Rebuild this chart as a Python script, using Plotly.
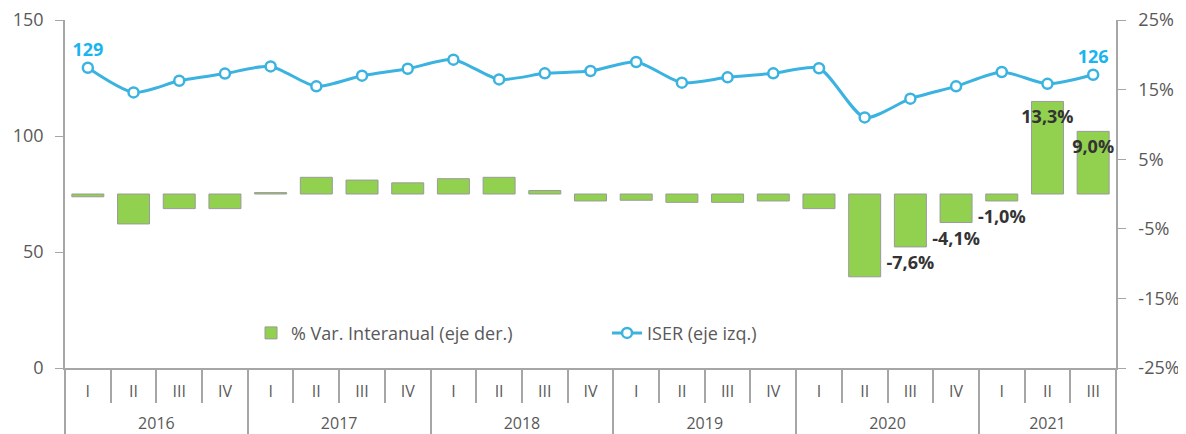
import plotly.graph_objects as go

years = ["2016"] * 4 + ["2017"] * 4 + ["2018"] * 4 + ["2019"] * 4 + ["2020"] * 4 + ["2021"] * 3
quarters = ["I", "II", "III", "IV"] * 5 + ["I", "II", "III"]

iser = [129.4, 118.8, 123.8, 126.9, 130.0, 121.4, 126.0, 129.0,
        132.9, 124.4, 127.0, 128.0, 131.9, 123.0, 125.3, 127.0,
        129.2, 108.0, 116.1, 121.4, 127.6, 122.5, 126.4]

var_ia = [-0.4, -4.3, -2.1, -2.1, 0.2, 2.4, 2.0, 1.6,
          2.2, 2.4, 0.5, -1.0, -0.9, -1.2, -1.2, -1.0,
          -2.1, -11.9, -7.6, -4.1, -1.0, 13.3, 9.0]

iser_labels = ["129"] + [""] * 21 + ["126"]
labeled_from = 18  # bars with printed values (2020 III onward)
bar_labels = [f"{v:.1f}%".replace(".", ",") for v in var_ia[labeled_from:]]

right_tickvals = [-25, -15, -5, 5, 15, 25]
right_ticktext = ["-25%", "-15%", "-5%", "5%", "15%", "25%"]

# tiny invisible second line under each quarter label: pushes the year row down
SPACER = "<br><span style='font-size:1px'>\u00a0</span>"
quarter_cats = [q + SPACER for q in quarters]
xcats = [years, quarter_cats]

FONT = "Open Sans"
GRAY = "#a6a6a6"
TXT = "#595959"
BLUE = "#3bb3e0"
GREEN = "#92d050"
XRANGE = [-0.5, 22.5]

fig = go.Figure()

fig.add_trace(go.Bar(
    x=xcats, y=var_ia, xaxis="x2", yaxis="y2",
    name="% Var. Interanual (eje der.)",
    marker=dict(color=GREEN, line=dict(color="#9a9a9a", width=1)),
))

fig.add_trace(go.Scatter(
    x=[years[labeled_from:], quarter_cats[labeled_from:]], y=var_ia[labeled_from:],
    xaxis="x2", yaxis="y2", mode="markers+text", text=bar_labels,
    marker=dict(size=12, opacity=0),
    textposition="bottom center", showlegend=False, hoverinfo="skip",
    textfont=dict(family=FONT, size=18, color="#333333", weight="bold"),
    cliponaxis=False,
))

fig.add_trace(go.Scatter(
    x=xcats, y=iser, xaxis="x", yaxis="y",
    name="ISER (eje izq.)", mode="lines+markers+text",
    line=dict(color=BLUE, width=3, shape="spline", smoothing=0.7),
    marker=dict(size=10, color="white", line=dict(color=BLUE, width=2.5)),
    text=iser_labels, textposition="top center",
    textfont=dict(family=FONT, size=18, color="#1ab4ef", weight="bold"),
    cliponaxis=False,
))

fig.update_layout(
    width=1178, height=426,
    margin=dict(l=57, r=70, t=12, b=66, autoexpand=False),
    paper_bgcolor="white", plot_bgcolor="white",
    font=dict(family=FONT, size=18, color=TXT),
    bargap=0.3,
    showlegend=True,
    legend=dict(orientation="h", x=0.177, y=0.10, yanchor="middle", xanchor="left",
                bgcolor="rgba(0,0,0,0)", entrywidth=311, entrywidthmode="pixels",
                traceorder="normal", font=dict(size=18, color=TXT)),
    xaxis=dict(type="multicategory", showline=True, linecolor=GRAY, linewidth=1.5,
               ticks="", showgrid=False, showdividers=True, dividercolor=GRAY,
               dividerwidth=1.5, tickfont=dict(size=16, color=TXT),
               ticklabelstandoff=8, range=XRANGE, automargin=False),
    xaxis2=dict(type="multicategory", overlaying="x", anchor="y2", side="bottom",
                showticklabels=False, ticks="outside", tickson="boundaries",
                ticklen=34, tickcolor=GRAY, tickwidth=1.5, showline=False,
                showgrid=False, showdividers=False, range=XRANGE, automargin=False),
    yaxis=dict(range=[0, 150], dtick=50, showline=True, linecolor=GRAY, linewidth=1.5,
               ticks="outside", ticklen=8, tickcolor=GRAY, showgrid=False,
               zeroline=False, tickfont=dict(size=18, color=TXT),
               ticklabelstandoff=8, ticklabeloverflow="allow", automargin=False),
    yaxis2=dict(range=[-25, 25], tickvals=right_tickvals, ticktext=right_ticktext,
                overlaying="y", side="right",
                anchor="x2", showline=True, linecolor=GRAY, linewidth=1.5,
                ticks="outside", ticklen=8, tickcolor=GRAY, showgrid=False,
                zeroline=False, tickfont=dict(size=18, color=TXT),
                ticklabelstandoff=9, ticklabeloverflow="allow", automargin=False),
)

fig.write_html("out.html")
